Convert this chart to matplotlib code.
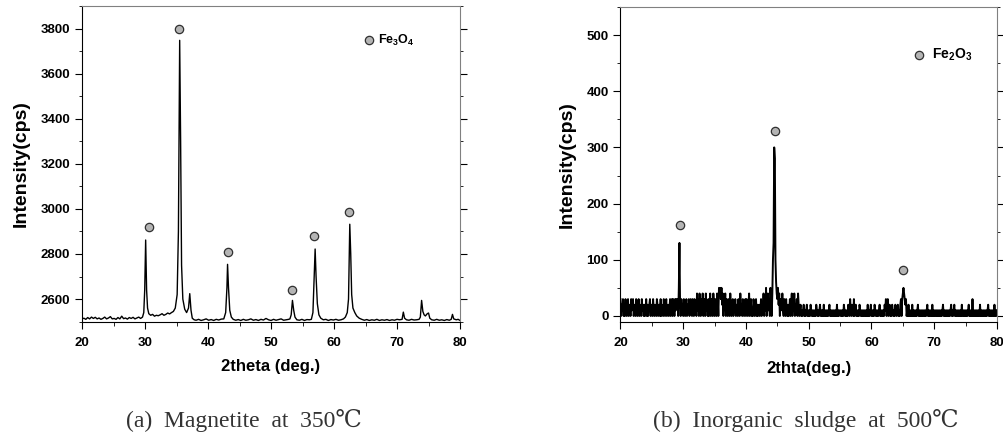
import numpy as np
import matplotlib
matplotlib.use("Agg")
import matplotlib.pyplot as plt
from matplotlib.ticker import MultipleLocator

plt.rcParams['font.family'] = ['Liberation Sans', 'DejaVu Sans']
plt.rcParams['font.weight'] = 'bold'
plt.rcParams['mathtext.fontset'] = 'custom'
plt.rcParams['mathtext.rm'] = 'Liberation Sans:bold'
plt.rcParams['mathtext.bf'] = 'Liberation Sans:bold'
plt.rcParams['path.simplify'] = False  # keep every noise spike

# (a) magnetite pattern, (2theta, cps)
pattern_a = [
    (20.0, 2512), (20.3, 2515), (20.6, 2510), (20.9, 2518), (21.2, 2512), (21.5, 2520),
    (21.8, 2514), (22.1, 2519), (22.4, 2512), (22.7, 2516), (23.0, 2510), (23.3, 2514),
    (23.6, 2520), (23.9, 2512), (24.2, 2516), (24.5, 2522), (24.8, 2512), (25.1, 2514),
    (25.4, 2510), (25.7, 2518), (26.0, 2512), (26.3, 2524), (26.6, 2513), (26.9, 2516),
    (27.2, 2511), (27.5, 2518), (27.8, 2514), (28.1, 2519), (28.4, 2512), (28.7, 2516),
    (29.0, 2520), (29.3, 2514), (29.6, 2520), (29.8, 2540), (29.95, 2640), (30.1, 2862),
    (30.25, 2640), (30.4, 2560), (30.6, 2535), (30.9, 2528), (31.2, 2532), (31.5, 2524),
    (31.8, 2528), (32.1, 2526), (32.4, 2530), (32.7, 2535), (33.0, 2528), (33.3, 2532),
    (33.6, 2538), (33.9, 2534), (34.2, 2540), (34.5, 2545), (34.8, 2560), (35.1, 2620),
    (35.3, 2900), (35.5, 3748), (35.65, 3300), (35.8, 2750), (36.0, 2600), (36.3, 2555),
    (36.6, 2540), (36.9, 2560), (37.1, 2624), (37.3, 2550), (37.5, 2515), (37.8, 2508),
    (38.1, 2506), (38.5, 2510), (38.9, 2505), (39.3, 2508), (39.7, 2512), (40.1, 2506),
    (40.5, 2509), (40.9, 2505), (41.3, 2510), (41.7, 2507), (42.1, 2511), (42.5, 2512),
    (42.8, 2540), (43.0, 2650), (43.1, 2754), (43.25, 2650), (43.45, 2550), (43.7, 2520),
    (44.0, 2510), (44.4, 2506), (44.8, 2509), (45.2, 2505), (45.6, 2510), (46.0, 2506),
    (46.4, 2508), (46.8, 2512), (47.2, 2506), (47.6, 2509), (48.0, 2505), (48.4, 2510),
    (48.8, 2507), (49.2, 2514), (49.6, 2508), (50.0, 2505), (50.4, 2510), (50.8, 2506),
    (51.2, 2509), (51.6, 2512), (52.0, 2506), (52.4, 2508), (52.8, 2510), (53.0, 2512),
    (53.2, 2530), (53.4, 2594), (53.6, 2550), (53.8, 2520), (54.1, 2508), (54.5, 2506),
    (54.9, 2510), (55.3, 2505), (55.7, 2509), (56.1, 2508), (56.4, 2510), (56.65, 2540),
    (56.85, 2700), (57.0, 2822), (57.15, 2700), (57.35, 2580), (57.6, 2530), (57.9, 2515),
    (58.3, 2508), (58.7, 2510), (59.1, 2505), (59.5, 2509), (59.9, 2507), (60.3, 2510),
    (60.7, 2506), (61.1, 2508), (61.5, 2512), (61.8, 2520), (62.1, 2540), (62.3, 2600),
    (62.5, 2932), (62.65, 2800), (62.8, 2620), (63.0, 2560), (63.3, 2540), (63.6, 2525),
    (64.0, 2515), (64.4, 2510), (64.8, 2506), (65.2, 2509), (65.6, 2505), (66.0, 2508),
    (66.4, 2506), (66.8, 2510), (67.2, 2505), (67.6, 2508), (68.0, 2506), (68.4, 2509),
    (68.8, 2505), (69.2, 2508), (69.6, 2506), (70.0, 2510), (70.4, 2508), (70.8, 2510),
    (71.0, 2542), (71.2, 2515), (71.5, 2508), (71.9, 2506), (72.3, 2510), (72.7, 2507),
    (73.1, 2508), (73.5, 2510), (73.7, 2520), (73.9, 2594), (74.1, 2545), (74.3, 2530),
    (74.5, 2525), (74.8, 2535), (75.0, 2538), (75.2, 2515), (75.5, 2508), (75.9, 2506),
    (76.3, 2510), (76.7, 2506), (77.1, 2508), (77.5, 2505), (77.9, 2509), (78.3, 2506),
    (78.6, 2510), (78.8, 2532), (79.0, 2512), (79.4, 2508), (79.7, 2510), (80.0, 2505),
]
theta_a = [p[0] for p in pattern_a]
cps_a = [p[1] for p in pattern_a]
marks_a_x = [30.7, 35.4, 43.2, 53.3, 56.8, 62.4]
marks_a_y = [2920, 3800, 2810, 2640, 2880, 2985]

# (b) inorganic sludge pattern, counts every 0.1 deg from 20 to 80
cps_b = [
    30, 0, 20, 10, 30, 0, 20, 0, 30, 10,   # 20
    0, 20, 30, 0, 10, 20, 0, 30, 10, 20,   # 21
    30, 0, 10, 20, 0, 30, 20, 0, 10, 30,   # 22
    0, 20, 10, 0, 30, 10, 20, 0, 20, 0,    # 23
    10, 30, 0, 20, 0, 10, 20, 30, 0, 10,   # 24
    20, 0, 30, 10, 0, 20, 10, 0, 30, 20,   # 25
    0, 10, 20, 0, 30, 0, 20, 10, 0, 30,    # 26
    10, 0, 20, 30, 0, 10, 20, 0, 10, 30,   # 27
    0, 20, 30, 0, 30, 20, 0, 30, 10, 30,   # 28
    20, 30, 0, 50, 130, 20, 0, 30, 10, 20, # 29
    0, 30, 10, 0, 20, 30, 0, 20, 10, 30,   # 30
    0, 20, 30, 10, 0, 30, 20, 0, 30, 10,   # 31
    20, 0, 40, 10, 30, 0, 40, 20, 0, 30,   # 32
    10, 40, 0, 20, 30, 0, 40, 10, 20, 0,   # 33
    30, 0, 20, 40, 0, 30, 10, 0, 40, 20,   # 34
    0, 30, 20, 0, 40, 30, 0, 50, 40, 50,   # 35
    30, 50, 20, 40, 0, 30, 20, 40, 0, 30,  # 36
    10, 0, 30, 20, 0, 40, 10, 0, 20, 30,   # 37
    0, 20, 10, 30, 0, 20, 10, 0, 30, 10,   # 38
    0, 40, 10, 20, 0, 30, 10, 0, 20, 30,   # 39
    0, 30, 10, 0, 20, 40, 0, 20, 30, 0,    # 40
    10, 0, 30, 20, 0, 10, 30, 0, 20, 0,    # 41
    10, 20, 0, 10, 30, 0, 20, 10, 40, 0,   # 42
    30, 10, 50, 0, 20, 40, 10, 30, 0, 50,  # 43
    20, 0, 40, 100, 130, 300, 280, 100, 60, 40,  # 44
    30, 50, 20, 40, 0, 30, 10, 20, 40, 10, # 45
    0, 30, 20, 0, 30, 10, 0, 20, 0, 10,    # 46
    30, 0, 20, 40, 0, 30, 10, 40, 0, 20,   # 47
    10, 30, 0, 40, 20, 0, 10, 20, 0, 10,   # 48
    0, 10, 20, 0, 10, 0, 10, 20, 0, 10,    # 49
    0, 10, 0, 20, 10, 0, 10, 0, 10, 0,     # 50
    10, 0, 20, 10, 0, 10, 0, 10, 20, 0,    # 51
    10, 0, 10, 0, 20, 0, 10, 0, 10, 0,     # 52
    10, 0, 10, 20, 0, 10, 0, 10, 0, 10,    # 53
    0, 10, 0, 10, 0, 20, 0, 10, 0, 10,     # 54
    10, 0, 10, 0, 10, 0, 20, 10, 0, 10,    # 55
    0, 10, 0, 20, 10, 0, 30, 10, 0, 20,    # 56
    10, 0, 30, 0, 10, 20, 0, 10, 0, 10,    # 57
    0, 20, 10, 0, 10, 0, 10, 0, 10, 0,     # 58
    10, 0, 10, 0, 20, 0, 10, 0, 10, 20,    # 59
    0, 10, 0, 10, 0, 20, 10, 0, 10, 0,     # 60
    10, 0, 10, 20, 0, 10, 0, 10, 0, 10,    # 61
    0, 20, 10, 30, 0, 10, 30, 0, 10, 20,   # 62
    0, 10, 0, 20, 10, 0, 10, 0, 20, 10,    # 63
    0, 10, 20, 0, 10, 0, 20, 30, 0, 30,    # 64
    40, 50, 40, 30, 20, 30, 0, 10, 0, 20,  # 65
    0, 10, 0, 10, 0, 20, 0, 10, 0, 10,     # 66
    0, 10, 0, 10, 20, 0, 10, 0, 10, 0,     # 67
    10, 0, 10, 0, 10, 0, 10, 0, 10, 20,    # 68
    0, 10, 0, 10, 0, 10, 0, 20, 0, 10,     # 69
    0, 10, 0, 10, 0, 10, 0, 10, 0, 10,     # 70
    0, 10, 0, 10, 20, 0, 10, 0, 10, 0,     # 71
    10, 0, 10, 0, 10, 0, 10, 20, 0, 10,    # 72
    0, 10, 20, 0, 10, 0, 10, 0, 10, 0,     # 73
    10, 0, 10, 0, 20, 0, 10, 0, 10, 0,     # 74
    10, 0, 10, 0, 10, 20, 0, 10, 0, 10,    # 75
    0, 30, 0, 10, 0, 10, 0, 10, 0, 10,     # 76
    0, 10, 0, 20, 0, 10, 0, 10, 0, 10,     # 77
    0, 10, 0, 10, 0, 10, 20, 0, 10, 0,     # 78
    10, 0, 10, 0, 10, 0, 20, 0, 10, 0,     # 79
    10,                                    # 80
]
theta_b = np.linspace(20, 80, len(cps_b))
marks_b_x = [29.5, 44.6, 65.1]
marks_b_y = [162, 330, 82]

mk = dict(marker='o', ls='none', ms=6, mfc='#b4b4b4', mec='#303030', mew=0.9)


def style_axes(ax):
    ax.spines['top'].set_color('#808080')
    ax.spines['right'].set_color('#808080')
    ax.tick_params(axis='x', which='both', direction='out', top=False, labelsize=9.5, pad=6)
    ax.tick_params(axis='x', which='major', length=5)
    ax.tick_params(axis='x', which='minor', length=3)
    ax.tick_params(axis='y', which='both', direction='out', right=True, labelsize=9.5)
    ax.tick_params(axis='y', which='major', length=5)
    ax.tick_params(axis='y', which='minor', length=2)
    ax.xaxis.set_major_locator(MultipleLocator(10))
    ax.xaxis.set_minor_locator(MultipleLocator(5))
    ax.set_xlim(20, 80)


fig = plt.figure(figsize=(10.04, 4.34), dpi=100)

ax1 = fig.add_axes([0.0817, 0.259, 0.3765, 0.727])
ax1.plot(theta_a, cps_a, color='black', lw=1.0)
ax1.plot(marks_a_x, marks_a_y, **mk)
ax1.plot([65.6], [3748], **mk)
ax1.text(66.9, 3748, r'Fe$_3$O$_4$', fontsize=9, va='center', fontweight='bold')
style_axes(ax1)
ax1.set_ylim(2500, 3900)
ax1.yaxis.set_major_locator(MultipleLocator(200))
ax1.yaxis.set_minor_locator(MultipleLocator(100))
ax1.set_ylabel('Intensity(cps)', fontsize=14, fontweight='bold', labelpad=8)
ax1.set_xlabel('2theta (deg.)', fontsize=12, fontweight='bold', labelpad=7)

ax2 = fig.add_axes([0.618, 0.259, 0.375, 0.725])
ax2.plot(theta_b, cps_b, color='black', lw=1.4)
ax2.plot(marks_b_x, marks_b_y, **mk)
ax2.plot([67.6], [465], **mk)
ax2.text(69.6, 465, r'Fe$_2$O$_3$', fontsize=10, va='center', fontweight='bold')
style_axes(ax2)
ax2.set_ylim(-10, 550)
ax2.yaxis.set_major_locator(MultipleLocator(100))
ax2.yaxis.set_minor_locator(MultipleLocator(50))
ax2.set_ylabel('Intensity(cps)', fontsize=14, fontweight='bold', labelpad=8)
ax2.set_xlabel('2thta(deg.)', fontsize=12, fontweight='bold', labelpad=9)

for ax in (ax1, ax2):
    for lab in ax.get_xticklabels() + ax.get_yticklabels():
        lab.set_fontweight('bold')

serif = ['Liberation Serif', 'DejaVu Serif']
fig.text(0.243, 1 - 421 / 434, '(a)  Magnetite  at  350℃', family=serif, fontsize=17,
         ha='center', va='center', color='#333333', fontweight='normal')
fig.text(0.803, 1 - 421 / 434, '(b)  Inorganic  sludge  at  500℃', family=serif, fontsize=17,
         ha='center', va='center', color='#333333', fontweight='normal')

fig.savefig('out.png', dpi=100)
